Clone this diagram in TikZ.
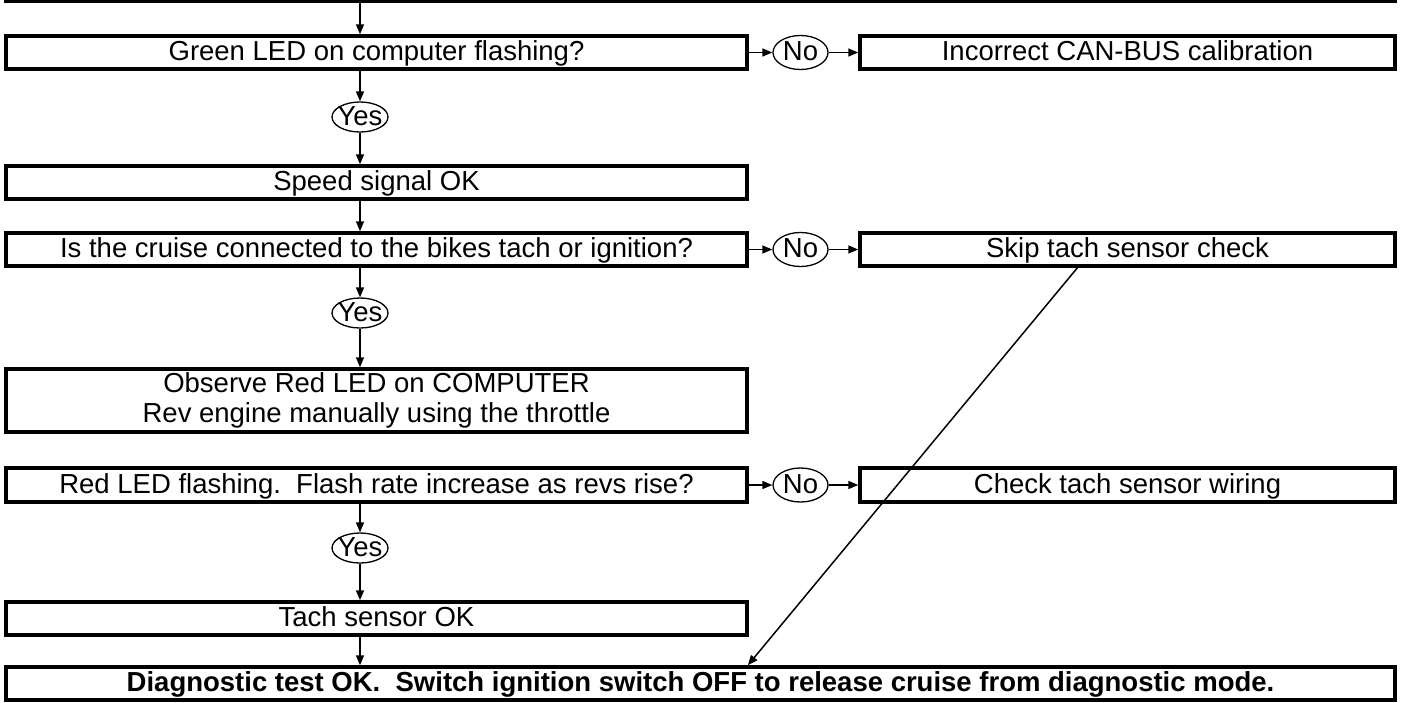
\documentclass[tikz,border=0pt]{standalone}
\usepackage{fontspec}
\setmainfont{Liberation Sans}
\usetikzlibrary{arrows.meta,shapes.geometric,calc}
\begin{document}
\begin{tikzpicture}[x=1pt,y=-1pt,
  txt/.style={font=\fontsize{27.5}{30}\selectfont},
  frame/.style={draw,line width=3.5pt,rectangle,minimum height=33pt,inner sep=0pt,txt},
  box/.style={frame,text height=20pt,text depth=4pt},
  leftbox/.style={box,minimum width=741pt},
  rightbox/.style={box,minimum width=535pt},
  fullbox/.style={box,minimum width=1389pt},
  yesshape/.style={draw,ellipse,line width=1.3pt,minimum width=56pt,minimum height=30pt,inner sep=0pt},
  noshape/.style={draw,ellipse,line width=1.3pt,minimum width=55pt,minimum height=34pt,inner sep=0pt},
  lbl/.style={inner sep=0pt,txt,text height=20pt,text depth=4pt},
  arr/.style={-{Triangle[length=10pt,width=8pt]},line width=1.5pt}
]
\useasboundingbox (0,0) rectangle (1403,702);
\clip (0,0) rectangle (1403,702);

% boxes of the main column
\node[fullbox,minimum height=60pt,anchor=south] (top) at (700.5,2.5) {};
\node[leftbox] (green) at (376.5,52.5) {Green LED on computer flashing?};
\node[leftbox] (speed) at (376.5,182.5) {Speed signal OK};
\node[leftbox] (cruise) at (376.5,249.5) {Is the cruise connected to the bikes tach or ignition?};
\node[frame,minimum width=741pt,minimum height=63pt,align=center] (observe) at (376.5,400.5)
  {Observe Red LED on COMPUTER\\Rev engine manually using the throttle};
\node[leftbox,minimum height=34pt] (red) at (376.5,485) {Red LED flashing.\ \ Flash rate increase as revs rise?};
\node[leftbox] (tach) at (376.5,618.5) {Tach sensor OK};
\node[fullbox] (diag) at (700.5,683.5)
  {\bfseries Diagnostic test OK.\ \ Switch ignition switch OFF to release cruise from diagnostic mode.};

% boxes of the right column
\node[rightbox] (can) at (1127.5,52.5) {Incorrect CAN-BUS calibration};
\node[rightbox] (skip) at (1127.5,249.5) {Skip tach sensor check};
\node[rightbox,minimum height=34pt] (wiring) at (1127.5,485) {Check tach sensor wiring};

% Yes / No decisions
\node[yesshape] (y1) at (360,117) {};
\node[lbl] (y1t) at (y1) {Yes};
\node[yesshape] (y2) at (360,313) {};
\node[lbl] (y2t) at (y2) {Yes};
\node[yesshape] (y3) at (360,548) {};
\node[lbl] (y3t) at (y3) {Yes};
\node[noshape] (n1) at (800.5,52.5) {};
\node[lbl] (n1t) at (n1) {No};
\node[noshape] (n2) at (800.5,249.5) {};
\node[lbl] (n2t) at (n2) {No};
\node[noshape] (n3) at (800.5,485) {};
\node[lbl] (n3t) at (n3) {No};

% vertical flow
\draw[arr] (top.south -| y1) -- (green.north -| y1);
\draw[arr] (green.south -| y1) -- (y1);
\draw[arr] (y1) -- (speed.north -| y1);
\draw[arr] (speed.south -| y1) -- (cruise.north -| y1);
\draw[arr] (cruise.south -| y1) -- (y2);
\draw[arr] (y2) -- (observe.north -| y1);
\draw[arr] (red.south -| y1) -- (y3);
\draw[arr] (y3) -- (tach.north -| y1);
\draw[arr] (tach.south -| y1) -- (diag.north -| y1);

% No branches
\draw[arr] (green) -- (n1);
\draw[arr] (n1) -- (can);
\draw[arr] (cruise) -- (n2);
\draw[arr] (n2) -- (skip);
\draw[arr] (red) -- (n3);
\draw[arr] (n3) -- (wiring);

% skipping the tach check
\draw[arr] ($(skip.south west)!0.407!(skip.south east)$) -- ($(diag.north west)!0.534!(diag.north east)$);
\end{tikzpicture}
\end{document}
